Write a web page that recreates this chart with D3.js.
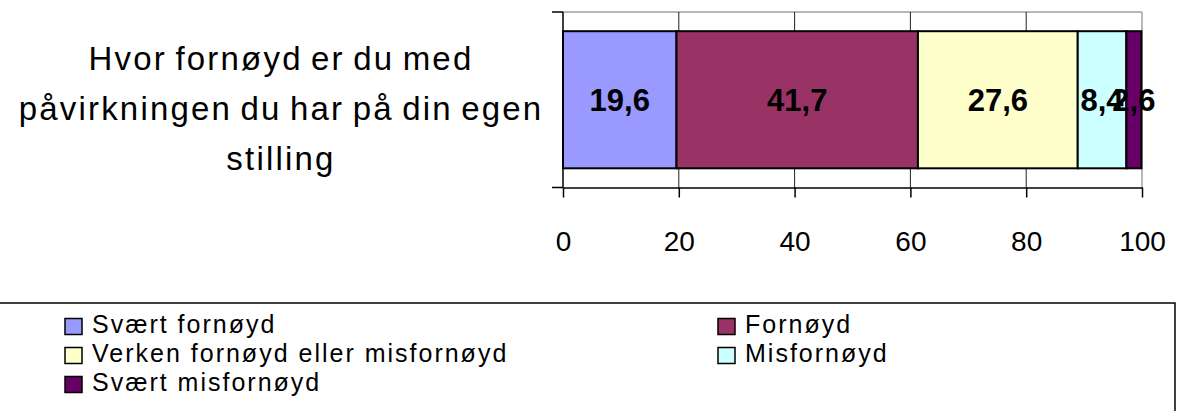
<!DOCTYPE html>
<html>
<head>
<meta charset="utf-8">
<script src="https://cdn.jsdelivr.net/npm/d3@7"></script>
<style>
  body { margin: 0; background: #fff; }
  svg { display: block; font-family: "Liberation Sans", Arial, sans-serif; }
</style>
</head>
<body>
<svg id="chart" width="1183" height="411"></svg>
<script>
// chart data
var titleLines = ['Hvor fornøyd er du med', 'påvirkningen du har på din egen', 'stilling'];
var seriesNames = ['Svært fornøyd', 'Fornøyd', 'Verken fornøyd eller misfornøyd', 'Misfornøyd', 'Svært misfornøyd'];
var seriesValues = [19.6, 41.7, 27.6, 8.4, 2.6];
var seriesColors = ['#9999FF', '#993366', '#FFFFCC', '#CCFFFF', '#660066'];
var xTicks = [0, 20, 40, 60, 80, 100];

var svg = d3.select('#chart');

var plot = {left: 563, right: 1142, top: 12, bottom: 187.5};
var x = d3.scaleLinear().domain([0, 100]).range([plot.left, plot.right]);
var y = d3.scaleBand().domain(['q']).range([plot.top, plot.bottom]).paddingInner(0).paddingOuter(0.14);

// stacked segments
var stack = [];
var acc = 0;
seriesValues.forEach(function (v, i) {
  stack.push({name: seriesNames[i], value: v, x0: acc, x1: acc + v, color: seriesColors[i]});
  acc += v;
});

// plot frame (top and right in grey)
svg.append('line').attr('x1', plot.left).attr('x2', plot.right).attr('y1', plot.top).attr('y2', plot.top)
  .attr('stroke', '#a0a0a0').attr('stroke-width', 1.5);
svg.append('line').attr('x1', plot.right).attr('x2', plot.right).attr('y1', plot.top).attr('y2', plot.bottom)
  .attr('stroke', '#a0a0a0').attr('stroke-width', 1.5);

// gridlines
svg.append('g').selectAll('line').data(xTicks.slice(1, -1)).enter().append('line')
  .attr('x1', function (d) { return x(d); }).attr('x2', function (d) { return x(d); })
  .attr('y1', plot.top).attr('y2', plot.bottom)
  .attr('stroke', '#222').attr('stroke-width', 1);

// bars
svg.append('g').selectAll('rect').data(stack).enter().append('rect')
  .attr('x', function (d) { return x(d.x0); })
  .attr('width', function (d) { return x(d.x1) - x(d.x0); })
  .attr('y', y('q'))
  .attr('height', y.bandwidth())
  .attr('fill', function (d) { return d.color; })
  .attr('stroke', '#000').attr('stroke-width', 2);

// data labels (the last two overlap, as in the original)
svg.append('g').selectAll('text').data(stack).enter().append('text')
  .attr('x', function (d) { return x((d.x0 + d.x1) / 2); })
  .attr('y', y('q') + y.bandwidth() / 2)
  .attr('dy', '0.36em')
  .attr('text-anchor', 'middle')
  .attr('font-size', 31).attr('font-weight', 'bold')
  .text(function (d) { return d3.format('.1f')(d.value).replace('.', ','); });

// x axis
var xAxis = svg.append('g').attr('transform', 'translate(0,' + plot.bottom + ')')
  .call(d3.axisBottom(x).tickValues(xTicks).tickSize(10).tickPadding(34).tickSizeOuter(0));
xAxis.select('.domain').attr('stroke', '#000').attr('stroke-width', 1.5);
xAxis.selectAll('.tick line').attr('stroke', '#000').attr('stroke-width', 1.5);
xAxis.selectAll('.tick text').attr('font-size', 28).attr('fill', '#000')
  .attr('font-family', '"Liberation Sans", Arial, sans-serif');

// y axis line with outer ticks
svg.append('line').attr('x1', plot.left).attr('x2', plot.left).attr('y1', plot.top).attr('y2', plot.bottom)
  .attr('stroke', '#000').attr('stroke-width', 1.5);
svg.append('g').selectAll('line').data([plot.top, plot.bottom]).enter().append('line')
  .attr('x1', plot.left - 11).attr('x2', plot.left)
  .attr('y1', function (d) { return d; }).attr('y2', function (d) { return d; })
  .attr('stroke', '#000').attr('stroke-width', 1.5);

// category title on the left
svg.append('g').selectAll('text').data(titleLines).enter().append('text')
  .attr('x', 281)
  .attr('y', function (d, i) { return 70 + i * 50; })
  .attr('text-anchor', 'middle')
  .attr('font-size', 33)
  .attr('letter-spacing', 2.2)
  .attr('word-spacing', -3)
  .text(function (d) { return d; });

// legend
var legend = svg.append('g');
legend.append('rect').attr('x', -2).attr('y', 303).attr('width', 1177).attr('height', 120)
  .attr('fill', 'none').attr('stroke', '#000').attr('stroke-width', 1.5);
var legendItems = legend.selectAll('g.item').data(stack).enter().append('g').attr('class', 'item')
  .attr('transform', function (d, i) {
    return 'translate(' + (i % 2 === 0 ? 65 : 718) + ',' + (326.5 + Math.floor(i / 2) * 29) + ')';
  });
legendItems.append('rect').attr('x', 0).attr('y', -8).attr('width', 17).attr('height', 16)
  .attr('fill', function (d) { return d.color; }).attr('stroke', '#000').attr('stroke-width', 1.5);
legendItems.append('text').attr('x', 27).attr('y', 6).attr('font-size', 25)
  .attr('letter-spacing', 2)
  .text(function (d) { return d.name; });
</script>
</body>
</html>
